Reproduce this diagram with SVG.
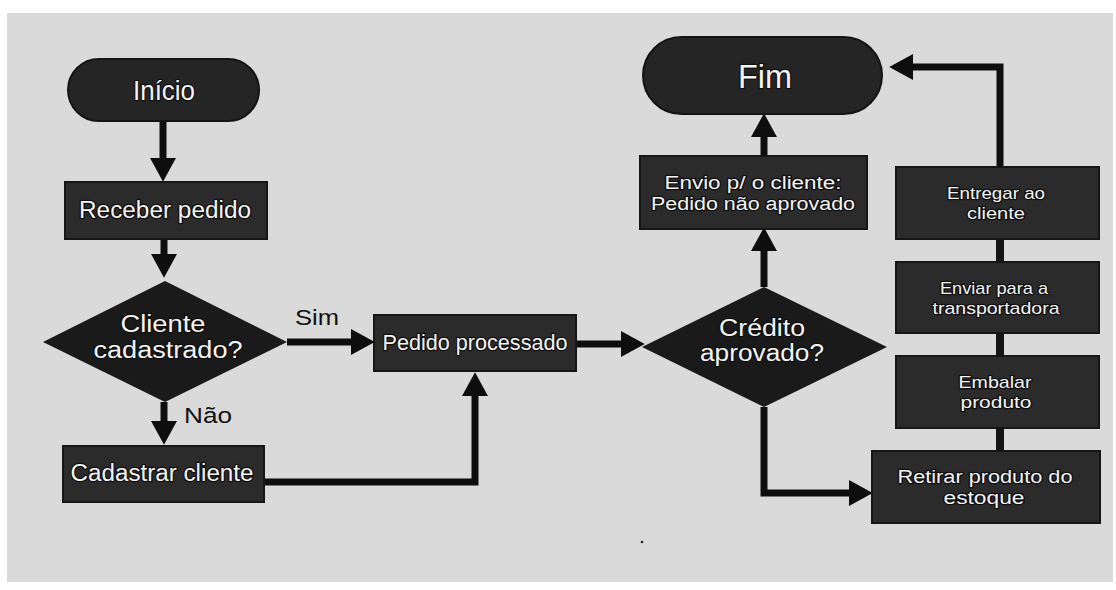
<svg xmlns="http://www.w3.org/2000/svg" width="1116" height="590" viewBox="0 0 1116 590">
  <style>
    .panel { fill: #dadada; }
    .box { fill: #2b2b2b; stroke: #161616; stroke-width: 2; }
    .term { fill: #252525; stroke: #141414; stroke-width: 2; }
    .dec { fill: #1a1a1a; }
    .t { font-family: "Liberation Sans", Arial, sans-serif; fill: #f4f4f4; stroke: #101010; stroke-width: 2.5; paint-order: stroke; text-anchor: middle; stroke-linejoin: round; }
    .lbl { font-family: "Liberation Sans", Arial, sans-serif; fill: #111; text-anchor: middle; font-size: 22px; }
    .flow { fill: none; stroke: #0e0e0e; stroke-width: 7; marker-end: url(#head); }
    .link { fill: none; stroke: #141414; stroke-width: 8; }
  </style>
  <defs>
    <marker id="head" markerUnits="userSpaceOnUse" markerWidth="24" markerHeight="26" refX="1" refY="12" orient="auto" viewBox="0 0 22 24">
      <path d="M0,0 L22,12 L0,24 Z" fill="#0e0e0e"/>
    </marker>
  </defs>

  <rect x="0" y="0" width="1116" height="590" fill="#ffffff"/>
  <rect class="panel" x="7" y="13" width="1106" height="569"/>

  <!-- connectors -->
  <g id="connectors">
    <path class="flow" d="M163,121 V159"/>
    <path class="flow" d="M164,239 V255"/>
    <path class="flow" d="M287,342 H352"/>
    <path class="flow" d="M164,402 V422"/>
    <path class="flow" d="M264,482 H475 V395"/>
    <path class="flow" d="M576,344 H622"/>
    <path class="flow" d="M764,287 V250"/>
    <path class="flow" d="M764,156 V136"/>
    <path class="flow" d="M1000,167 V67 H912"/>
    <path class="flow" d="M764,407 V493 H850"/>
    <path class="link" d="M1000,239 V262"/>
    <path class="link" d="M1000,333 V356"/>
    <path class="link" d="M1000,428 V451"/>
  </g>

  <g id="inicio">
    <rect class="term" x="68" y="59" width="191" height="62" rx="31"/>
    <text class="t" x="164" y="100" font-size="27" textLength="62" lengthAdjust="spacingAndGlyphs">Início</text>
  </g>

  <g id="receber-pedido">
    <rect class="box" x="65" y="182" width="202" height="57"/>
    <text class="t" x="165" y="218" font-size="23" textLength="172" lengthAdjust="spacingAndGlyphs">Receber pedido</text>
  </g>

  <g id="cliente-cadastrado">
    <polygon class="dec" points="165,281 287,342 165,402 43,342"/>
    <text class="t" x="163" y="332" font-size="23" textLength="85" lengthAdjust="spacingAndGlyphs">Cliente</text>
    <text class="t" x="168" y="358" font-size="23" textLength="149" lengthAdjust="spacingAndGlyphs">cadastrado?</text>
  </g>

  <g id="label-sim">
    <text class="lbl" x="317" y="325" textLength="44" lengthAdjust="spacingAndGlyphs">Sim</text>
  </g>
  <g id="label-nao">
    <text class="lbl" x="208" y="423" textLength="48" lengthAdjust="spacingAndGlyphs">Não</text>
  </g>

  <g id="cadastrar-cliente">
    <rect class="box" x="63" y="446" width="201" height="56"/>
    <text class="t" x="162" y="481" font-size="23" textLength="183" lengthAdjust="spacingAndGlyphs">Cadastrar cliente</text>
  </g>

  <g id="pedido-processado">
    <rect class="box" x="374" y="315" width="202" height="56"/>
    <text class="t" x="475" y="350" font-size="22" textLength="185" lengthAdjust="spacingAndGlyphs">Pedido processado</text>
  </g>

  <g id="credito-aprovado">
    <polygon class="dec" points="764,287 887,347 764,407 642,347"/>
    <text class="t" x="762" y="336" font-size="23" textLength="86" lengthAdjust="spacingAndGlyphs">Crédito</text>
    <text class="t" x="762" y="361" font-size="23" textLength="124" lengthAdjust="spacingAndGlyphs">aprovado?</text>
  </g>

  <g id="envio-cliente">
    <rect class="box" x="640" y="156" width="227" height="73"/>
    <text class="t" x="753" y="189" font-size="18" textLength="177" lengthAdjust="spacingAndGlyphs">Envio p/ o cliente:</text>
    <text class="t" x="753" y="210" font-size="18" textLength="204" lengthAdjust="spacingAndGlyphs">Pedido não aprovado</text>
  </g>

  <g id="fim">
    <rect class="term" x="643" y="37" width="239" height="77" rx="38.5"/>
    <text class="t" x="765" y="88" font-size="33" textLength="54" lengthAdjust="spacingAndGlyphs">Fim</text>
  </g>

  <g id="entregar-cliente">
    <rect class="box" x="896" y="167" width="203" height="72"/>
    <text class="t" x="996" y="199" font-size="17" textLength="98" lengthAdjust="spacingAndGlyphs">Entregar ao</text>
    <text class="t" x="996" y="219" font-size="17" textLength="58" lengthAdjust="spacingAndGlyphs">cliente</text>
  </g>

  <g id="enviar-transportadora">
    <rect class="box" x="896" y="262" width="203" height="71"/>
    <text class="t" x="994" y="294" font-size="17" textLength="108" lengthAdjust="spacingAndGlyphs">Enviar para a</text>
    <text class="t" x="996" y="314" font-size="17" textLength="127" lengthAdjust="spacingAndGlyphs">transportadora</text>
  </g>

  <g id="embalar-produto">
    <rect class="box" x="896" y="356" width="203" height="72"/>
    <text class="t" x="995" y="388" font-size="17" textLength="73" lengthAdjust="spacingAndGlyphs">Embalar</text>
    <text class="t" x="996" y="408" font-size="17" textLength="71" lengthAdjust="spacingAndGlyphs">produto</text>
  </g>

  <g id="retirar-produto">
    <rect class="box" x="872" y="451" width="228" height="72"/>
    <text class="t" x="985" y="483" font-size="18" textLength="175" lengthAdjust="spacingAndGlyphs">Retirar produto do</text>
    <text class="t" x="984" y="504" font-size="18" textLength="81" lengthAdjust="spacingAndGlyphs">estoque</text>
  </g>

  <circle cx="642" cy="542" r="1.3" fill="#222"/>
</svg>
